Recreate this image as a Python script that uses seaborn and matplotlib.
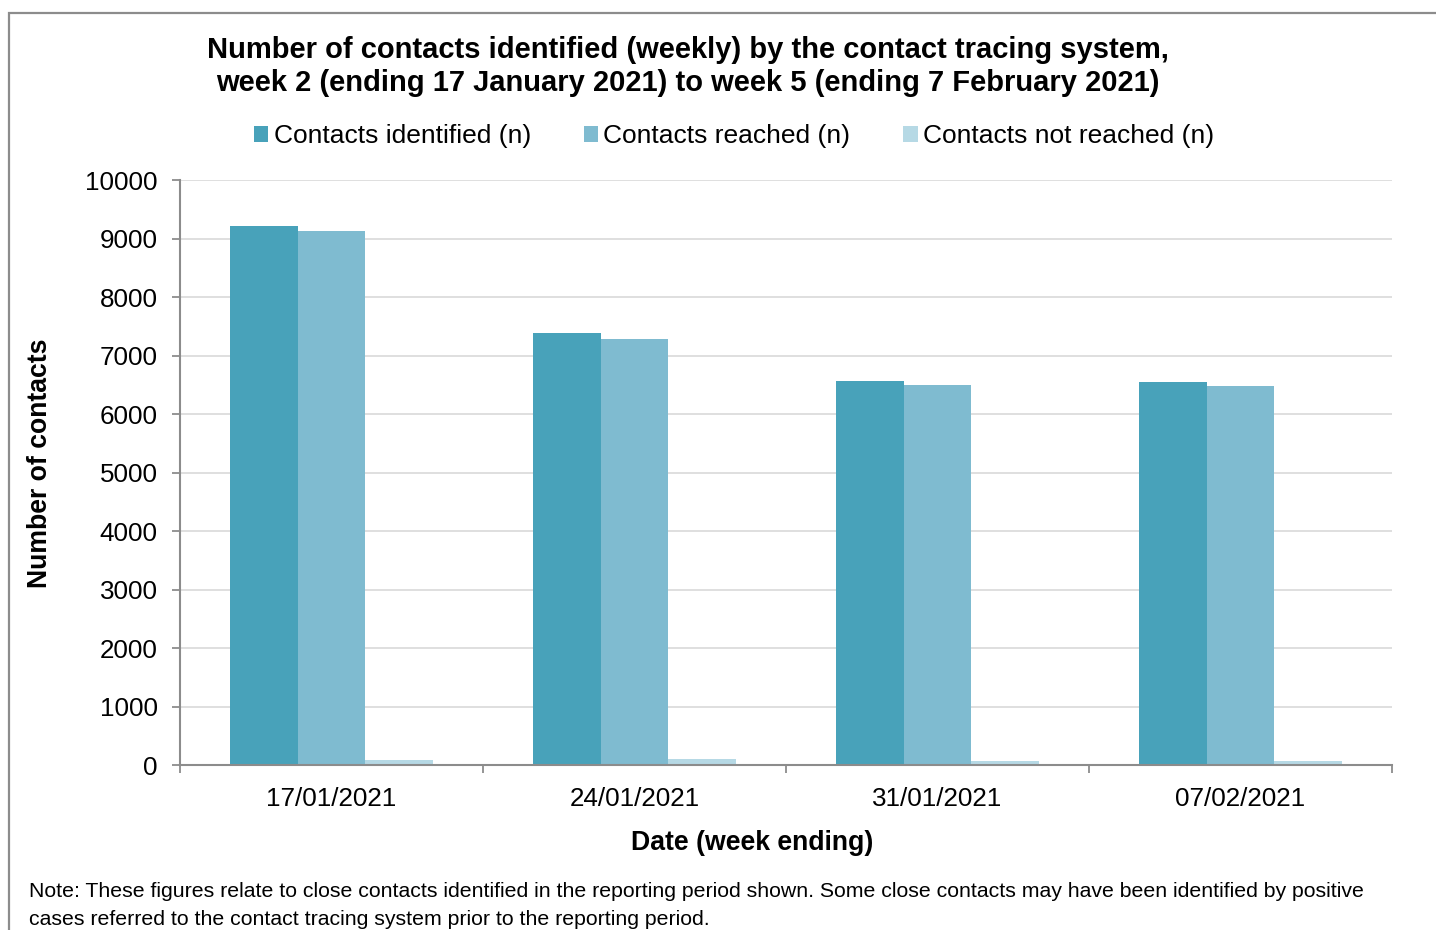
import matplotlib
matplotlib.use("Agg")
import matplotlib.pyplot as plt
import seaborn as sns
import pandas as pd
from matplotlib.patches import Rectangle, Patch

# ---- data ----
dates = ["17/01/2021", "24/01/2021", "31/01/2021", "07/02/2021"]
contacts_identified = [9214, 7379, 6560, 6555]
contacts_reached = [9128, 7282, 6490, 6487]
contacts_not_reached = [86, 97, 70, 68]
series_names = ["Contacts identified (n)", "Contacts reached (n)", "Contacts not reached (n)"]
colors = ["#48A2BA", "#7FBBD0", "#B6D9E5"]
y_ticks = list(range(0, 10001, 1000))

title1 = "Number of contacts identified (weekly) by the contact tracing system,"
title2 = "week 2 (ending 17 January 2021) to week 5 (ending 7 February 2021)"
note1 = ("Note: These figures relate to close contacts identified in the reporting period shown. "
         "Some close contacts may have been identified by positive")
note2 = "cases referred to the contact tracing system prior to the reporting period."

rows = []
for name, vals in zip(series_names, [contacts_identified, contacts_reached, contacts_not_reached]):
    for d, v in zip(dates, vals):
        rows.append({"date": d, "series": name, "value": v})
df = pd.DataFrame(rows)

sns.set_theme(style="white")
plt.rcParams["font.family"] = ["Liberation Sans", "DejaVu Sans"]
plt.rcParams["text.color"] = "black"

W, H = 1436, 930
fig = plt.figure(figsize=(W / 100, H / 100), dpi=100)
ax = fig.add_axes([180 / W, (H - 765) / H, 1212 / W, 585 / H])

sns.barplot(data=df, x="date", y="value", hue="series", order=dates,
            hue_order=series_names, palette=colors, width=0.667,
            saturation=1, ax=ax, legend=False, edgecolor="none")

ax.set_ylim(0, 10000)
ax.set_xlim(-0.5, 3.5)
ax.set_yticks(y_ticks)
ax.set_yticklabels([str(t) for t in y_ticks])
ax.yaxis.grid(True, color="#D9D9D9", linewidth=1.2)
ax.set_axisbelow(True)

for s in ["top", "right"]:
    ax.spines[s].set_visible(False)
for s in ["left", "bottom"]:
    ax.spines[s].set_color("#8C8C8C")
    ax.spines[s].set_linewidth(1.5)

ax.tick_params(axis="y", which="major", left=True, length=6, width=1.3,
               color="#8C8C8C", labelsize=18.7, pad=10, labelcolor="black")
ax.set_xticks([-0.5, 0.5, 1.5, 2.5, 3.5])
ax.set_xticklabels([])
ax.set_xticks([0, 1, 2, 3], minor=True)
ax.set_xticklabels(dates, minor=True)
ax.tick_params(axis="x", which="major", bottom=True, length=6, width=1.3,
               color="#8C8C8C", direction="out")
ax.tick_params(axis="x", which="minor", bottom=False, length=0,
               labelsize=18.7, pad=16, labelcolor="black")
ax.set_xlabel("")
ax.set_ylabel("")

fig.text(40 / W, 1 - 463 / H, "Number of contacts", rotation=90, ha="center",
         va="center", fontsize=19.2, fontweight="bold", color="black")
fig.text(752 / W, 1 - 843 / H, "Date (week ending)", ha="center", va="center",
         fontsize=19.2, fontweight="bold", color="black")

fig.text(688 / W, 1 - 50 / H, title1, ha="center", va="center",
         fontsize=21, fontweight="bold", color="black")
fig.text(688 / W, 1 - 83 / H, title2, ha="center", va="center",
         fontsize=21, fontweight="bold", color="black")

handles = [Patch(facecolor=c, edgecolor="none") for c in colors]
fig.legend(handles, series_names, loc="center", ncol=3,
           bbox_to_anchor=(734 / W, 1 - 136 / H), frameon=False,
           fontsize=19, handlelength=0.55, handleheight=0.55,
           handletextpad=0.2, columnspacing=2.0, labelcolor="black")

fig.text(29 / W, 1 - 891 / H, note1, ha="left", va="center", fontsize=15.3,
         color="black")
fig.text(29 / W, 1 - 919 / H, note2, ha="left", va="center", fontsize=15.3,
         color="black")

fig.patches.append(Rectangle((9 / W, -0.05), 1.2, 1 - 13 / H + 0.05,
                             transform=fig.transFigure, fill=False,
                             edgecolor="#8C8C8C", linewidth=1.6, zorder=0))

fig.savefig("out.png", dpi=100)
